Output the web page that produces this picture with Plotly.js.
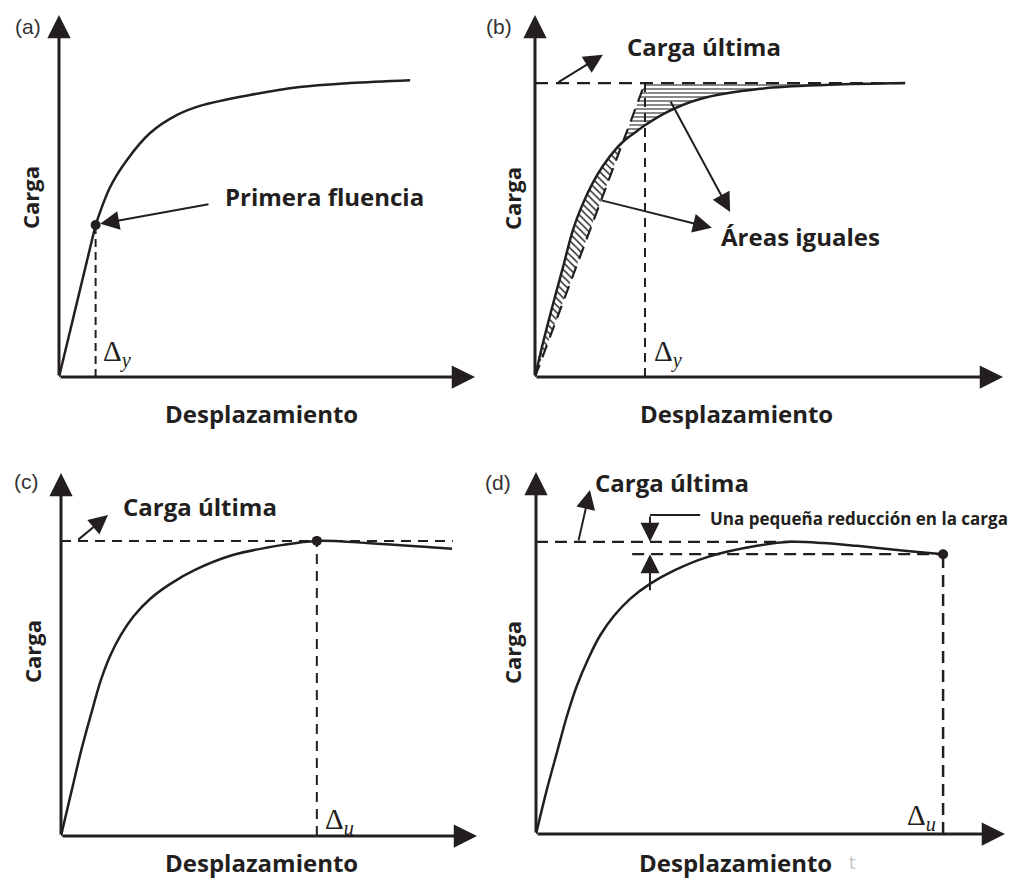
<!DOCTYPE html>
<html>
<head>
<meta charset="utf-8">
<script src="https://cdn.plot.ly/plotly-3.0.1.min.js"></script>
<style>html,body{margin:0;padding:0;background:#fff;}</style>
</head>
<body>
<div id="chart" style="width:1012px;height:881px;"></div>
<script>
// ---- data (normalised units: displacement 0-100, load 0-100) ----
// (a) first yield
const aCurveX = [0, 8.8, 12.3, 16.3, 21.9, 28.4, 33.9, 45.9, 57.9, 70.0, 84.4];
const aCurveY = [0, 42.0, 52.5, 59.9, 67.4, 72.4, 74.9, 77.9, 80.1, 81.2, 82.0];
const aYieldIndex = 1;

// (b) equivalent elasto-plastic system (equal areas)
const bCurveX = [0, 1.7, 3.8, 6.0, 8.1, 10.3, 12.2, 14.5, 17.5, 19.0, 20.9, 23.9, 28.2, 35.3, 48.1, 63.0, 79.1];
const bCurveY = [0, 9.4, 19.9, 30.4, 40.6, 48.1, 53.3, 58.3, 63.3, 65.2, 67.1, 69.9, 73.2, 76.8, 79.6, 80.7, 81.2];
const bYieldX = 23.5;

// (c) ultimate load at peak
const cCurveX = [0, 2.6, 5.0, 7.5, 9.6, 11.8, 14.4, 17.5, 21.4, 26.2, 32.2, 41.3, 53.4, 61.5, 73.6, 94.0];
const cCurveY = [0, 12.7, 24.2, 34.7, 43.0, 49.6, 55.4, 60.6, 65.3, 69.4, 73.3, 77.4, 80.2, 81.3, 80.7, 79.1];
const cUltLineEnd = 94.2;

// (d) small load reduction after peak
const dCurveX = [0, 2.3, 4.5, 6.6, 8.7, 11.1, 13.6, 16.6, 20.0, 24.3, 29.6, 36.5, 47.1, 54.2, 61.2, 68.4, 79.1, 86.8];
const dCurveY = [0, 12.2, 22.7, 32.6, 40.9, 48.3, 54.7, 60.2, 64.9, 69.1, 72.9, 76.5, 79.6, 80.7, 80.4, 79.6, 78.2, 77.3];
const dUltLineEnd = 55.7;
const dEndLineStart = 20.5;
const dReductionX = 24.3;

// ---- styling ----
const W = 1012, H = 881;
const INK = '#231f20';
const BOLD = 'Open Sans';
const SERIF = 'Liberation Serif';

function ax(n, s) { return (n === 1 ? s : s + n); }

function line(n, xs, ys, opt) {
  opt = opt || {};
  return {
    type: 'scatter', mode: 'lines', x: xs, y: ys,
    xaxis: ax(n, 'x'), yaxis: ax(n, 'y'),
    line: {color: opt.color || INK, width: opt.width || 2.5, shape: opt.shape || 'linear', dash: opt.dash || 'solid'},
    fill: opt.fill || 'none', fillpattern: opt.fillpattern, fillcolor: opt.fillcolor,
    hoverinfo: 'skip', showlegend: false, cliponaxis: false
  };
}
function dot(n, x, y) {
  return {type: 'scatter', mode: 'markers', x: [x], y: [y], xaxis: ax(n, 'x'), yaxis: ax(n, 'y'),
    marker: {color: INK, size: 10}, hoverinfo: 'skip', showlegend: false, cliponaxis: false};
}

const traces = [];

// (a)
const ay0 = aCurveX[aYieldIndex], ay1 = aCurveY[aYieldIndex];
traces.push(line(1, [ay0, ay0], [0, ay1], {dash: '8px,5px', width: 2}));
traces.push(line(1, aCurveX.slice(0, aYieldIndex + 1), aCurveY.slice(0, aYieldIndex + 1)));
traces.push(line(1, aCurveX.slice(aYieldIndex), aCurveY.slice(aYieldIndex), {shape: 'spline'}));
traces.push(dot(1, ay0, ay1));

// (b)
const bUlt = Math.max.apply(null, bCurveY);
const bLast = bCurveX.length - 1;
const bLine = x => (x <= bYieldX ? bUlt * x / bYieldX : bUlt);
const k = bCurveX.findIndex((x, i) => i > 0 && bCurveY[i] <= bLine(x) + 0.5);
const clear = 'rgba(0,0,0,0)';
// lower hatched area (curve above the elastic line)
traces.push(line(2, [0, bCurveX[k]], [0, bLine(bCurveX[k])], {color: clear, width: 1}));
traces.push(line(2, bCurveX.slice(0, k + 1), bCurveY.slice(0, k + 1), {color: clear, width: 1, shape: 'spline',
  fill: 'tonexty', fillpattern: {shape: '\\', size: 5, solidity: 0.32, fgcolor: '#333', bgcolor: 'white'}}));
// upper wavy area (plateau above the curve)
traces.push(line(2, bCurveX.slice(k), bCurveY.slice(k), {color: clear, width: 1, shape: 'spline'}));
traces.push(line(2, [bCurveX[k], bYieldX, bCurveX[bLast]], [bLine(bCurveX[k]), bUlt, bUlt], {color: clear, width: 1,
  fill: 'tonexty', fillpattern: {shape: '-', size: 4, solidity: 0.3, fgcolor: '#3a3a3a', bgcolor: 'white'}}));
traces.push(line(2, [0, bCurveX[bLast]], [bUlt, bUlt], {dash: '13px,8px', width: 2.2}));
traces.push(line(2, [0, bYieldX], [0, bUlt], {dash: '13px,8px', width: 2.2}));
traces.push(line(2, [bYieldX, bYieldX], [0, bUlt], {dash: '9px,6px', width: 2}));
traces.push(line(2, bCurveX, bCurveY, {shape: 'spline'}));

// (c)
const cUlt = Math.max.apply(null, cCurveY);
const cPk = cCurveY.indexOf(cUlt);
traces.push(line(3, [0, cUltLineEnd], [cUlt, cUlt], {dash: '10px,7px', width: 2}));
traces.push(line(3, [cCurveX[cPk], cCurveX[cPk]], [0, cUlt], {dash: '10px,7px', width: 2}));
traces.push(line(3, cCurveX, cCurveY, {shape: 'spline'}));
traces.push(dot(3, cCurveX[cPk], cUlt));

// (d)
const dUlt = Math.max.apply(null, dCurveY);
const dLast = dCurveX.length - 1;
traces.push(line(4, [0, dUltLineEnd], [dUlt, dUlt], {dash: '12px,7px', width: 2.2}));
traces.push(line(4, [dEndLineStart, dCurveX[dLast]], [dCurveY[dLast], dCurveY[dLast]], {dash: '12px,7px', width: 2.2}));
traces.push(line(4, [dCurveX[dLast], dCurveX[dLast]], [0, dCurveY[dLast]], {dash: '12px,7px', width: 2.5}));
traces.push(line(4, dCurveX, dCurveY, {shape: 'spline'}));
traces.push(dot(4, dCurveX[dLast], dCurveY[dLast]));

// ---- annotations ----
function P(px, py) { return {x: px / W, y: 1 - py / H, xref: 'paper', yref: 'paper'}; }
function text(px, py, t, size, o) {
  o = o || {};
  return Object.assign(P(px, py), {
    text: t, showarrow: false, xanchor: o.xanchor || 'center', yanchor: o.yanchor || 'middle',
    textangle: o.angle || 0,
    font: {family: o.family || BOLD, size: size, color: o.color || INK, weight: o.weight === undefined ? 700 : o.weight}
  });
}
function arrow(n, tx, ty, hx, hy, o) {
  o = o || {};
  return {
    xref: ax(n, 'x'), yref: ax(n, 'y'), axref: ax(n, 'x'), ayref: ax(n, 'y'),
    x: hx, y: hy, ax: tx, ay: ty, text: '', showarrow: true,
    arrowhead: o.head === undefined ? 2 : o.head, arrowsize: o.size || 1.9, arrowwidth: o.width || 2,
    arrowcolor: INK, standoff: 0, startstandoff: 0
  };
}
function dlabel(n, x, y, sub, anchor) {
  return {xref: ax(n, 'x'), yref: ax(n, 'y'), x: x, y: y, showarrow: false,
    text: 'Δ<sub><i>' + sub + '</i></sub>', xanchor: anchor, yanchor: 'middle',
    font: {family: SERIF, size: 29, color: INK}};
}

const ann = [];
// axes with arrow tips
for (let n = 1; n <= 4; n++) {
  ann.push(arrow(n, 0, 0, 100, 0, {width: 3, size: 1.55}));
  ann.push(arrow(n, 0, 0, 0, 100, {width: 3, size: 1.55}));
}
// panel letters
const tagFont = {family: 'Liberation Sans', weight: 400, color: '#333'};
ann.push(text(28, 26, '(a)', 21, tagFont));
ann.push(text(499, 26, '(b)', 21, tagFont));
ann.push(text(26, 481, '(c)', 21, tagFont));
ann.push(text(498, 483, '(d)', 21, tagFont));
// axis titles
[[30, 198], [512, 198], [32, 651], [512, 652]].forEach(p => ann.push(text(p[0], p[1], 'Carga', 22, {angle: -90})));
[[261, 413], [736, 413], [261, 862], [735, 862]].forEach(p => ann.push(text(p[0], p[1], 'Desplazamiento', 24)));
ann.push(text(852, 863, 't', 17, {weight: 400, color: '#c4c4c4', family: 'DejaVu Sans'}));

// (a) notes
ann.push(text(324, 196, 'Primera fluencia', 24));
ann.push(arrow(1, 36.3, 47.8, 9.9, 42.3));
ann.push(dlabel(1, 10.2, 6.5, 'y', 'left'));

// (b) notes
ann.push(text(704, 47, 'Carga última', 24));
ann.push(arrow(2, 4.7, bUlt, 14.5, 89.0));
ann.push(text(800, 236, 'Áreas iguales', 24));
ann.push(arrow(2, 13.9, 48.9, 37.8, 41.2));
ann.push(arrow(2, 28.8, 76.5, 41.7, 45.6));
ann.push(dlabel(2, 25.0, 6.5, 'y', 'left'));

// (c) notes
ann.push(text(200, 507, 'Carga última', 24));
ann.push(arrow(3, 3.8, cUlt, 11.3, 88.4));
ann.push(dlabel(3, 63.0, 4.2, 'u', 'left'));

// (d) notes
ann.push(text(672, 482, 'Carga última', 24));
ann.push(arrow(4, 9.0, dUlt, 11.5, 95.0));
ann.push(text(708, 518, 'Una pequeña reducción en la carga', 17, {xanchor: 'left'}));
ann.push(arrow(4, dReductionX, 88.1, dReductionX, dUlt));
ann.push(arrow(4, dReductionX, 66.9, dReductionX, dCurveY[dLast]));
ann.push(dlabel(4, 85.8, 4.8, 'u', 'right'));

const shapes = [
  {type: 'line', xref: 'x4', yref: 'y4', x0: dReductionX, x1: 35.0, y0: 88.1, y1: 88.1, line: {color: INK, width: 2}}
];

function axisDef(x0, x1) { return {domain: [x0 / W, x1 / W], range: [0, 100], visible: false, fixedrange: true}; }
function yaxisDef(yb, yt) { return {domain: [1 - yb / H, 1 - yt / H], range: [0, 100], visible: false, fixedrange: true}; }

const layout = {
  width: W, height: H,
  margin: {l: 0, r: 0, t: 0, b: 0},
  paper_bgcolor: '#fff', plot_bgcolor: 'rgba(0,0,0,0)',
  showlegend: false,
  xaxis: axisDef(59, 475), yaxis: yaxisDef(377, 15),
  xaxis2: axisDef(535, 1003), yaxis2: yaxisDef(377, 15),
  xaxis3: axisDef(61, 477), yaxis3: yaxisDef(836, 473),
  xaxis4: axisDef(536, 1005), yaxis4: yaxisDef(834, 472),
  annotations: ann, shapes: shapes
};

Plotly.newPlot('chart', traces, layout, {displayModeBar: false, staticPlot: true});
</script>
</body>
</html>
